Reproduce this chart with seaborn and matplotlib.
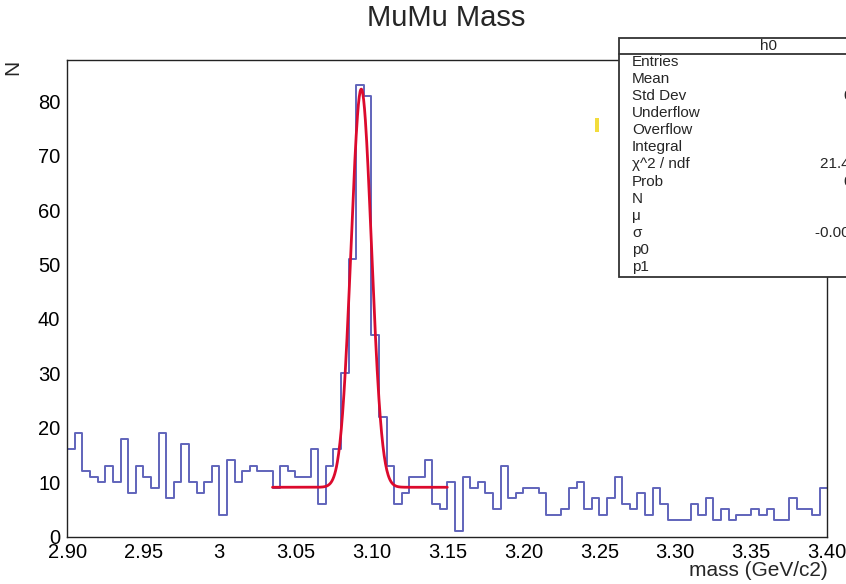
import numpy as np
import pandas as pd
import matplotlib
matplotlib.use("Agg")
import matplotlib.pyplot as plt
from matplotlib.patches import Rectangle
from matplotlib.lines import Line2D
from matplotlib.ticker import MultipleLocator
import seaborn as sns

sns.set_style("white")
plt.rcParams['font.family'] = ['Liberation Sans', 'DejaVu Sans']

# histogram h0: 100 bins from 2.90 to 3.40
x_min, x_max = 2.90, 3.40
n_bins = 100
counts = [16, 19, 12, 11, 10, 13, 10, 18, 8, 13,
          11, 9, 19, 7, 10, 17, 10, 8, 10, 13,
          4, 14, 10, 12, 13, 12, 12, 9, 13, 12,
          11, 11, 16, 6, 13, 16, 30, 51, 83, 81,
          37, 22, 13, 6, 8, 11, 11, 14, 6, 5,
          10, 1, 11, 9, 10, 8, 5, 13, 7, 8,
          9, 9, 8, 4, 4, 5, 9, 10, 5, 7,
          4, 7, 11, 6, 5, 8, 4, 9, 6, 3,
          3, 3, 6, 4, 7, 3, 5, 3, 4, 4,
          5, 4, 5, 3, 3, 7, 5, 5, 4, 9]

x_ticks = [2.90, 2.95, 3.00, 3.05, 3.10, 3.15, 3.20, 3.25, 3.30, 3.35, 3.40]
x_tick_labels = ["2.90", "2.95", "3", "3.05", "3.10", "3.15", "3.20",
                 "3.25", "3.30", "3.35", "3.40"]
y_ticks = [0, 10, 20, 30, 40, 50, 60, 70, 80]

# gaus + pol1 fit
fit_N = 73.2
fit_mu = 3.0934
fit_sigma = -0.0067
fit_p0 = 9.05
fit_p1 = 0.0
fit_lo, fit_hi = 3.035, 3.15

stat_labels = ["Entries", "Mean", "Std Dev", "Underflow", "Overflow", "Integral",
               "\u03c7^2 / ndf", "Prob", "N", "\u03bc", "\u03c3", "p0", "p1"]
# only the left part of these values is inside the picture
stat_values = {"Std Dev": "0.1301", "\u03c7^2 / ndf": "21.43 / 19",
               "Prob": "0.3123", "\u03c3": "-0.006717 \u00b1 0.000549"}
stat_value_x = {"Std Dev": 843, "\u03c7^2 / ndf": 820, "Prob": 843, "\u03c3": 815}

hist_color = "#6064bb"
fit_color = "#dc0a2d"

W, H = 846, 584
fig = plt.figure(figsize=(W / 100, H / 100), dpi=100)


def fx(px):
    return px / W


def fy(py):
    return 1 - py / H


ax = fig.add_axes([fx(67.3), fy(536.5), (827.3 - 67.3) / W, (536.5 - 60) / H])

width = (x_max - x_min) / n_bins
hist_df = pd.DataFrame({"mass": x_min + width * (np.arange(n_bins) + 0.5),
                        "N": counts})
sns.histplot(data=hist_df, x="mass", weights="N", bins=n_bins, binrange=(x_min, x_max),
             element="step", fill=False, color=hist_color, linewidth=1.4, ax=ax)

xf = np.linspace(fit_lo, fit_hi, 400)
yf = fit_N * np.exp(-0.5 * ((xf - fit_mu) / fit_sigma) ** 2) + fit_p0 + fit_p1 * xf
sns.lineplot(x=xf, y=yf, color=fit_color, linewidth=2, ax=ax)

ax.set_xlim(x_min, x_max)
ax.set_ylim(0, 87.6)
ax.set_xticks(x_ticks)
ax.set_xticklabels(x_tick_labels)
ax.set_yticks(y_ticks)
ax.xaxis.set_minor_locator(MultipleLocator(0.01))
ax.yaxis.set_minor_locator(MultipleLocator(2))
ax.tick_params(which='both', direction='in', top=False, right=False,
               colors='#222222', labelcolor='black', labelsize=14.5, width=1)
ax.tick_params(axis='x', which='major', length=12, pad=5)
ax.tick_params(axis='x', which='minor', length=6)
ax.tick_params(axis='y', which='major', length=19, pad=5)
ax.tick_params(axis='y', which='minor', length=9.5)
for s in ax.spines.values():
    s.set_color('#222222')
    s.set_linewidth(1)

ax.set_xlabel("mass (GeV/c2)", fontsize=15, loc='right')
ax.xaxis.set_label_coords(1.0, -0.052)
ax.set_ylabel("N", fontsize=15, loc='top')
ax.yaxis.set_label_coords(-0.059, 1.0)

fig.text(fx(446), fy(18), "MuMu Mass", ha='center', va='center', fontsize=21)

# stats box
fig.add_artist(Rectangle((fx(619), fy(277)), fx(917) - fx(619), (277 - 38) / H,
                         transform=fig.transFigure, facecolor='white',
                         edgecolor='#333333', linewidth=1.3, zorder=10))
fig.add_artist(Line2D([fx(619), fx(917)], [fy(54), fy(54)], transform=fig.transFigure,
                      color='#333333', linewidth=1.3, zorder=11))
fig.text(fx(768), fy(46), "h0", ha='center', va='center', fontsize=11, zorder=12)
for i, lab in enumerate(stat_labels):
    row_y = 62 + 17.08 * i
    fig.text(fx(632), fy(row_y), lab, ha='left', va='center', fontsize=11, zorder=12)
    if lab in stat_values:
        fig.text(fx(stat_value_x[lab]), fy(row_y), stat_values[lab], ha='left',
                 va='center', fontsize=11, zorder=12)

# small yellow mark left of the box
fig.add_artist(Rectangle((fx(595), fy(132)), fx(4), 14 / H, transform=fig.transFigure,
                         facecolor='#f2dc3c', edgecolor='none', zorder=12))

fig.savefig("out.png", dpi=100)
